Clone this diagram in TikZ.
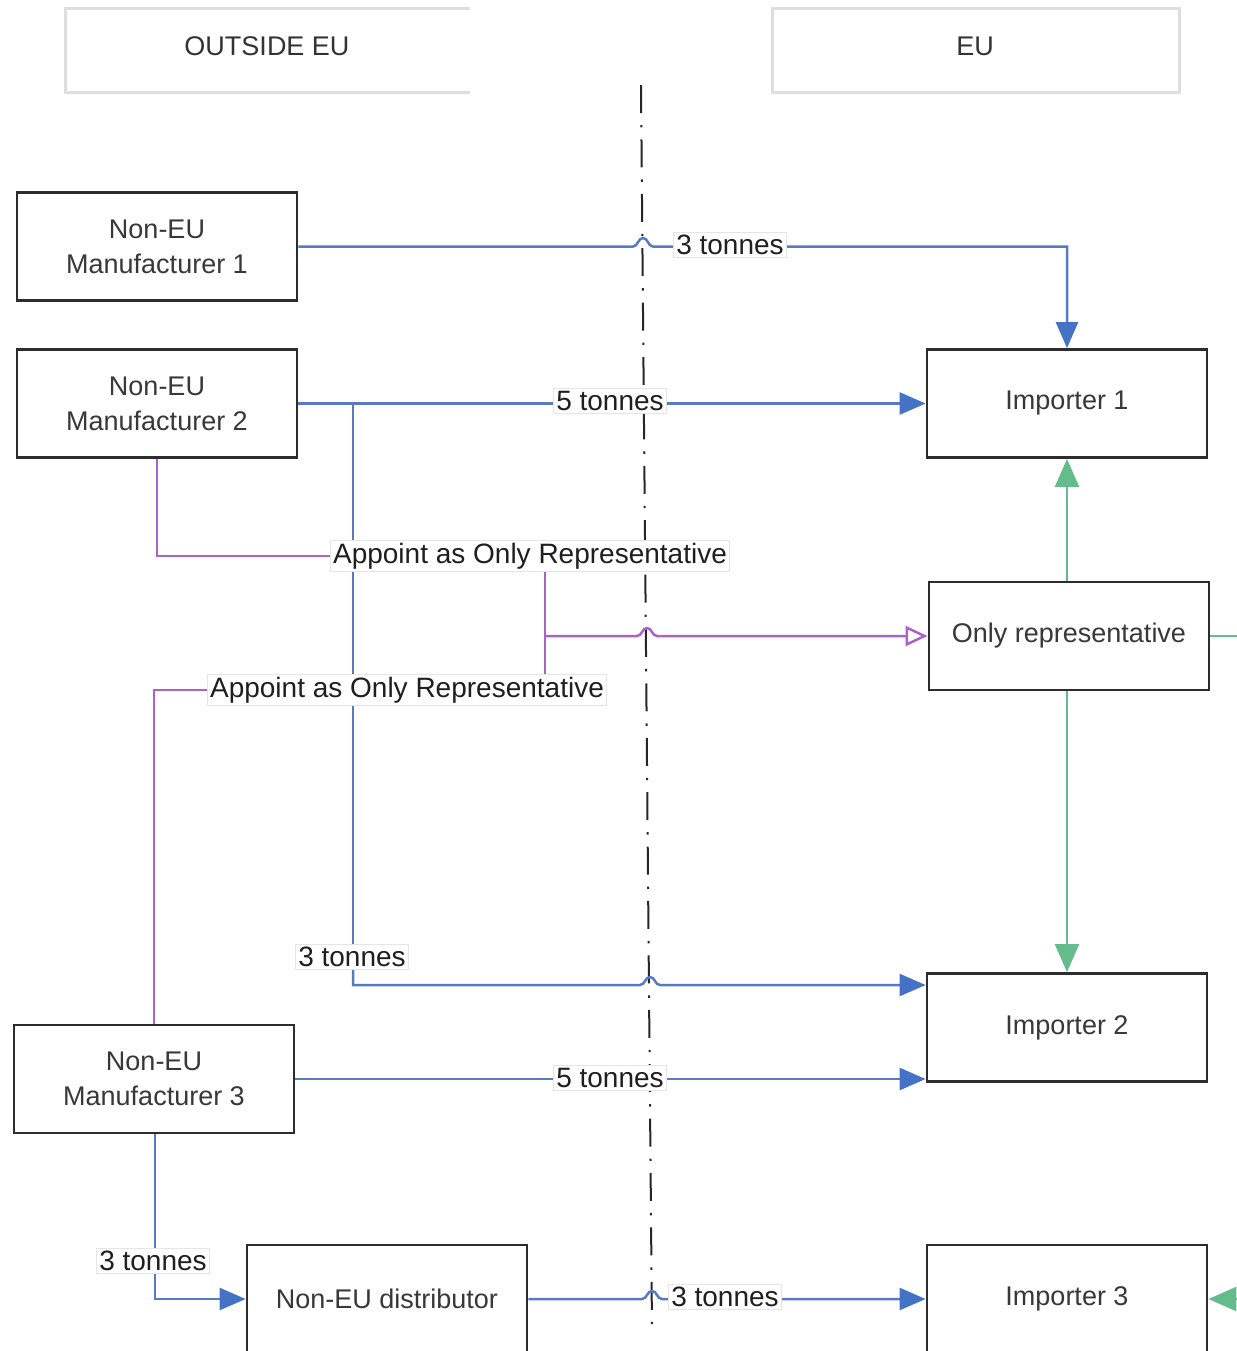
\documentclass[tikz,border=0pt]{standalone}
\usepackage{fontspec}
\setmainfont{Liberation Sans}
\usetikzlibrary{arrows.meta}
\pgfdeclarelayer{bg}
\pgfsetlayers{bg,main}
\definecolor{flowblue}{RGB}{88,122,192}
\definecolor{tipblue}{RGB}{68,114,196}
\definecolor{appurple}{RGB}{168,100,200}
\definecolor{repgreen}{RGB}{100,188,140}
\definecolor{boxedge}{RGB}{45,45,45}
\definecolor{hdredge}{RGB}{222,222,222}
\begin{document}
\begin{tikzpicture}[x=0.5pt,y=-0.5pt,
  box/.style={draw=boxedge, line width=1.4pt, fill=white, minimum width=140pt,
    minimum height=54pt, align=center, inner sep=0pt,
    font=\fontsize{13.5}{17.5}\selectfont, text=black!78},
  hdr/.style={font=\fontsize{13.5}{16}\selectfont, text=black!80},
  lbl/.style={fill=white, draw=black!10, line width=0.4pt, inner sep=1.2pt,
    font=\fontsize{14}{16}\selectfont, text=black!88},
  flowline/.style={draw=flowblue, line width=1.25pt},
  flow/.style={flowline, -{Triangle[length=13pt,width=11pt,color=tipblue]}},
  repline/.style={draw=appurple, line width=1.25pt},
  rep/.style={repline, -{Triangle[open,length=11pt,width=10pt]}},
  tiesline/.style={draw=repgreen, line width=1.25pt},
  ties/.style={tiesline, -{Triangle[length=14pt,width=12pt]}},
  divider/.style={draw=black!85, line width=1pt, dash pattern=on 14pt off 6pt on 1.2pt off 6pt},
  hdrbox/.style={draw=hdredge, line width=1.5pt}
]
\useasboundingbox (0,0) rectangle (1237,1351);
\clip (0,0) rectangle (1237,1351);

% header boxes
\draw[hdrbox] (470,8) -- (65,8) -- (65,92) -- (470,92);
\draw[hdrbox] (772,8) rectangle (1179,92);
\node[hdr] (houts) at (267,46) {OUTSIDE EU};
\node[hdr] (heu) at (975,46) {EU};

% boxes
\node[box] (m1) at (157,246.5) {Non-EU\\Manufacturer 1};
\node[box] (m2) at (157,403.5) {Non-EU\\Manufacturer 2};
\node[box] (m3) at (154,1079) {Non-EU\\Manufacturer 3};
\node[box] (dist) at (387,1299) {Non-EU distributor};
\node[box] (i1) at (1067,403.5) {Importer 1};
\node[box] (or) at (1069,636) {Only representative};
\node[box] (i2) at (1067,1027.5) {Importer 2};
\node[box] (i3) at (1067,1299) {Importer 3};

% labels
\node[lbl] (t1) at (730,245) {3 tonnes};
\node[lbl] (t2) at (610,401) {5 tonnes};
\node[lbl] (ap1) at (530,556) {Appoint as Only Representative};
\node[lbl] (ap2) at (407,690) {Appoint as Only Representative};
\node[lbl] (t3) at (352,957) {3 tonnes};
\node[lbl] (t4) at (610,1078) {5 tonnes};
\node[lbl] (t5) at (153,1261) {3 tonnes};
\node[lbl] (t6) at (725,1297) {3 tonnes};

\coordinate (dtop) at (641,85);
\coordinate (dbot) at (652,1330);
\coordinate (br) at (353,403.5);
\coordinate (brb) at (353,985);
\coordinate (jn) at (545,636);
\coordinate (gr) at (1244,636);
\coordinate (grb) at (1244,1299);

\begin{pgfonlayer}{bg}
% divider
\draw[divider] (dtop) -- (dbot);

% blue flows
\draw[flow] (m1.east) -- (633,246.5)
  .. controls (638,246.5) and (638,238) .. (643,238)
  .. controls (648,238) and (648,246.5) .. (653,246.5)
  -- (i1.north |- m1.east) -- (i1.north);
\draw[flow] (m2.east) -- (i1.west);
\draw[flowline] (br) -- (t3.north -| br);
\draw[flow] (t3.south -| br) -- (brb) -- (640,985)
  .. controls (645,985) and (645,977) .. (650,977)
  .. controls (655,977) and (655,985) .. (660,985)
  -- (i2.west |- brb);
\draw[flow] (m3.east) -- (i2.west |- m3.east);
\draw[flow] (m3.south -| 155,0) -- (155,1299) -- (dist.west);
\draw[flow] (dist.east) -- (642,1299)
  .. controls (647,1299) and (647,1291) .. (652,1291)
  .. controls (657,1291) and (657,1299) .. (662,1299)
  -- (i3.west);

% purple appointments
\draw[repline] (m2.south) -- (m2.south |- ap1) -- (ap1.west);
\draw[repline] (m3.north) -- (m3.north |- ap2) -- (ap2.west);
\draw[repline] (ap1.south -| jn) -- (ap2.north -| jn);
\draw[rep] (jn) -- (637,636)
  .. controls (642,636) and (642,628) .. (647,628)
  .. controls (652,628) and (652,636) .. (657,636)
  -- (or.west);

% green ties
\draw[ties] (or.north -| i1.south) -- (i1.south);
\draw[ties] (or.south -| i2.north) -- (i2.north);
\draw[ties] (or.east) -- (gr) -- (grb) -- (i3.east);
\end{pgfonlayer}
\end{tikzpicture}
\end{document}
